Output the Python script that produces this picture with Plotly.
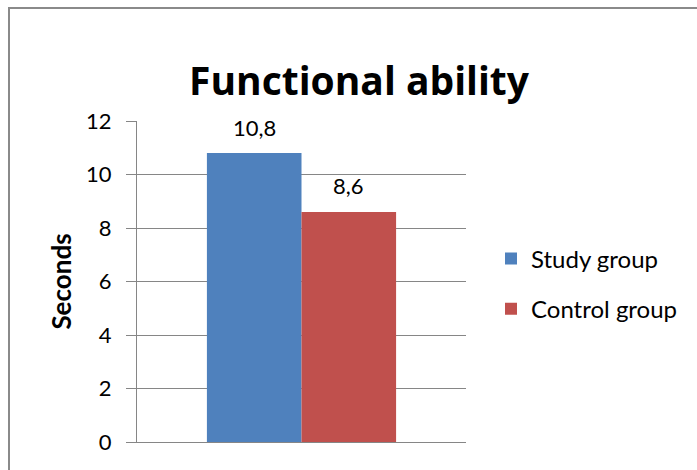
import plotly.graph_objects as go

categories = ["Functional ability"]
series_names = ["Study group", "Control group"]
study_values = [10.8]
control_values = [8.6]
colors = ["#4F81BD", "#C0504D"]
y_ticks = [0, 2, 4, 6, 8, 10, 12]

FONT = "Lato"

L, R, T, B = 137, 231, 121, 28
W, H = 697, 470
pw, ph = W - L - R, H - T - B

def px(x):
    return (x - L) / pw

def py(y):
    return (H - B - y) / ph

fig = go.Figure()
series = [(series_names[0], study_values, colors[0], "a", -1),
          (series_names[1], control_values, colors[1], "b", 1)]
bargap = 0.425
bar_w = pw * (1 - bargap) / 2
for name, vals, col, grp, side in series:
    fig.add_trace(go.Bar(
        x=categories, y=vals, name=name, marker=dict(color=col, line=dict(width=0)),
        legendgroup=grp,
    ))
    for c, v in zip(categories, vals):
        fig.add_annotation(x=c, y=v, xref="x", yref="y",
                           text=f"{v:.1f}".replace(".", ","), showarrow=False,
                           xshift=side * bar_w / 2, yshift=26, yanchor="middle",
                           font=dict(family=FONT, size=22, color="#000000"))

fig.add_shape(type="rect", xref="paper", yref="paper",
              x0=px(9), x1=px(720), y0=py(490), y1=py(8),
              line=dict(color="#8a8a8a", width=2), fillcolor="rgba(0,0,0,0)", layer="below")

fig.update_layout(
    width=W, height=H,
    margin=dict(l=L, r=R, t=T, b=B, pad=0),
    paper_bgcolor="white", plot_bgcolor="white",
    separators=",.",
    barmode="group", bargap=bargap, bargroupgap=0,
    title=dict(text="<b>Functional ability</b>", xref="container", x=359 / W, xanchor="center",
               yref="container", y=1 - 81 / H, yanchor="middle",
               font=dict(family="Open Sans", size=39, color="#000000")),
    showlegend=True,
    legend=dict(x=px(491), xanchor="left", y=py(284), yanchor="middle",
                font=dict(family=FONT, size=24, color="#000000"),
                traceorder="grouped", tracegroupgap=16, bgcolor="rgba(0,0,0,0)"),
    font=dict(family=FONT, color="#000000"),
)
fig.update_xaxes(showticklabels=False, showgrid=False, ticks="",
                 showline=True, linecolor="#868686", linewidth=1, zeroline=False)
fig.update_yaxes(range=[0, 12], tickvals=y_ticks, ticks="outside", ticklen=10,
                 tickcolor="#868686", showline=True, linecolor="#868686", linewidth=1,
                 showgrid=True, gridcolor="#868686", gridwidth=1, zeroline=False,
                 ticklabelstandoff=10,
                 tickfont=dict(family=FONT, size=22, color="#000000"),
                 title=dict(text="<b>Seconds</b>", font=dict(family=FONT, size=26, color="#000000"),
                            standoff=6))

fig.write_html("out.html")
